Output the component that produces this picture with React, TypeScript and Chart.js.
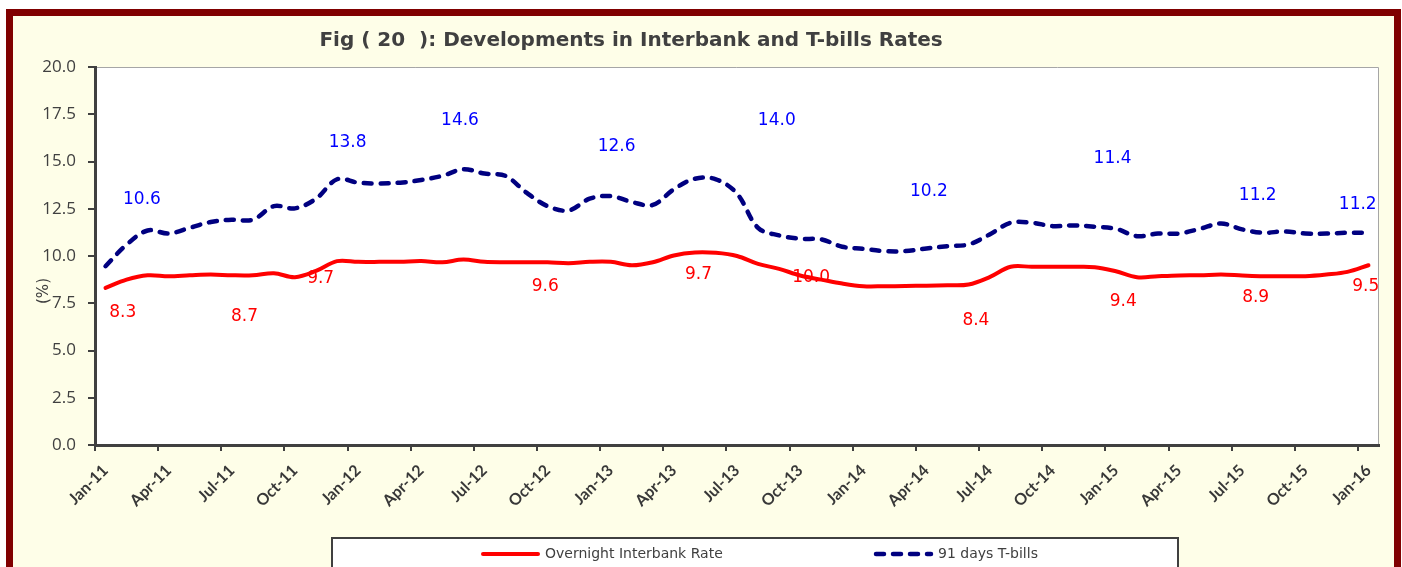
import React, { useEffect, useRef } from 'react';
import { Chart, registerables } from 'chart.js';

Chart.register(...registerables);

const TITLE = 'Fig ( 20  ): Developments in Interbank and T-bills Rates';
const Y_TITLE = '(%)';

const CATEGORIES = [
  'Jan-11', 'Feb-11', 'Mar-11', 'Apr-11', 'May-11', 'Jun-11', 'Jul-11', 'Aug-11', 'Sep-11', 'Oct-11', 'Nov-11', 'Dec-11',
  'Jan-12', 'Feb-12', 'Mar-12', 'Apr-12', 'May-12', 'Jun-12', 'Jul-12', 'Aug-12', 'Sep-12', 'Oct-12', 'Nov-12', 'Dec-12',
  'Jan-13', 'Feb-13', 'Mar-13', 'Apr-13', 'May-13', 'Jun-13', 'Jul-13', 'Aug-13', 'Sep-13', 'Oct-13', 'Nov-13', 'Dec-13',
  'Jan-14', 'Feb-14', 'Mar-14', 'Apr-14', 'May-14', 'Jun-14', 'Jul-14', 'Aug-14', 'Sep-14', 'Oct-14', 'Nov-14', 'Dec-14',
  'Jan-15', 'Feb-15', 'Mar-15', 'Apr-15', 'May-15', 'Jun-15', 'Jul-15', 'Aug-15', 'Sep-15', 'Oct-15', 'Nov-15', 'Dec-15',
  'Jan-16',
];

const INTERBANK = [
  8.31, 8.75, 8.98, 8.93, 8.98, 9.02, 8.98, 8.98, 9.09, 8.88, 9.21, 9.73,
  9.69, 9.69, 9.70, 9.73, 9.67, 9.81, 9.69, 9.67, 9.67, 9.67, 9.62, 9.69,
  9.69, 9.51, 9.67, 10.03, 10.19, 10.17, 10.0, 9.58, 9.32, 8.97, 8.75, 8.54,
  8.40, 8.40, 8.41, 8.43, 8.45, 8.49, 8.88, 9.43, 9.43, 9.43, 9.43, 9.41,
  9.19, 8.88, 8.93, 8.97, 8.98, 9.02, 8.97, 8.93, 8.93, 8.93, 9.02, 9.16,
  9.51,
];

const TBILLS = [
  9.46, 10.6, 11.35, 11.19, 11.49, 11.8, 11.92, 11.92, 12.64, 12.52, 13.03, 14.06,
  13.88, 13.84, 13.88, 14.02, 14.24, 14.59, 14.36, 14.24, 13.35, 12.64, 12.41, 13.03,
  13.17, 12.86, 12.70, 13.53, 14.09, 14.06, 13.3, 11.49, 11.09, 10.91, 10.88, 10.49,
  10.38, 10.26, 10.26, 10.40, 10.52, 10.61, 11.14, 11.76, 11.76, 11.58, 11.62, 11.55,
  11.44, 11.05, 11.19, 11.19, 11.44, 11.72, 11.41, 11.23, 11.30, 11.19, 11.19, 11.23,
  11.23,
];

// data labels as placed on the original chart (category index, value on y axis)
const TBILL_LABELS = ['10.6', '13.8', '14.6', '12.6', '14.0', '10.2', '11.4', '11.2', '11.2'];
const TBILL_LABEL_AT = [1.73, 11.5, 16.84, 24.28, 31.89, 39.12, 47.84, 54.74, 59.49];
const TBILL_LABEL_Y = [13.0, 16.0, 17.15, 15.77, 17.15, 13.39, 15.17, 13.2, 12.73];

const IB_LABELS = ['8.3', '8.7', '9.7', '9.6', '9.7', '10.0', '8.4', '9.4', '8.9', '9.5'];
const IB_LABEL_AT = [0.82, 6.6, 10.22, 20.89, 28.17, 33.52, 41.35, 48.35, 54.64, 59.87];
const IB_LABEL_Y = [6.98, 6.77, 8.81, 8.39, 9.02, 8.84, 6.58, 7.57, 7.81, 8.4];

const Y_MIN = 0;
const Y_MAX = 20;
const Y_STEP = 2.5;

const GREY = '#404040';
const RED = '#FF0000';
const NAVY = '#000080';
const BLUE_TEXT = '#0000FF';

const backgroundPlugin = {
  id: 'plotBackground',
  beforeDraw(chart: any) {
    const { ctx, chartArea: a } = chart;
    ctx.save();
    ctx.fillStyle = '#FFFFFF';
    ctx.fillRect(a.left, a.top, a.right - a.left, a.bottom - a.top);
    ctx.strokeStyle = '#A6A6A6';
    ctx.lineWidth = 1;
    ctx.beginPath();
    ctx.moveTo(a.left, a.top + 0.5);
    ctx.lineTo(a.right - 0.5, a.top + 0.5);
    ctx.lineTo(a.right - 0.5, a.bottom);
    ctx.stroke();
    ctx.restore();
  },
};

const labelsPlugin = {
  id: 'manualLabels',
  beforeDatasetsDraw(chart: any) {
    const { ctx } = chart;
    const x = chart.scales.x;
    const y = chart.scales.y;
    ctx.save();
    ctx.font = '17px "DejaVu Sans"';
    ctx.textAlign = 'center';
    ctx.textBaseline = 'middle';
    ctx.fillStyle = BLUE_TEXT;
    TBILL_LABELS.forEach((t, i) => {
      ctx.fillText(t, x.getPixelForValue(TBILL_LABEL_AT[i]), y.getPixelForValue(TBILL_LABEL_Y[i]));
    });
    ctx.fillStyle = RED;
    IB_LABELS.forEach((t, i) => {
      ctx.fillText(t, x.getPixelForValue(IB_LABEL_AT[i]), y.getPixelForValue(IB_LABEL_Y[i]));
    });
    ctx.restore();
  },
};

const textPlugin = {
  id: 'figureTexts',
  afterDraw(chart: any) {
    const { ctx, chartArea: a } = chart;
    ctx.save();
    // title
    ctx.fillStyle = GREY;
    ctx.font = 'bold 20px "DejaVu Sans"';
    ctx.textAlign = 'center';
    ctx.textBaseline = 'middle';
    ctx.fillText(TITLE, a.left + (a.right - a.left) * 0.4175, a.top - 26);
    // y axis title
    ctx.save();
    ctx.translate(44, a.top + 224);
    ctx.rotate(-Math.PI / 2);
    ctx.font = '15px "DejaVu Sans"';
    ctx.fillText(Y_TITLE, 0, 0);
    ctx.restore();
    // legend box
    const boxL = 332, boxR = 1178, boxT = 538;
    ctx.fillStyle = '#FFFFFF';
    ctx.fillRect(boxL, boxT, boxR - boxL, 60);
    ctx.strokeStyle = GREY;
    ctx.lineWidth = 2;
    ctx.strokeRect(boxL, boxT, boxR - boxL, 60);
    const starts = [481, 874];
    const cy = 554;
    chart.data.datasets.forEach((ds: any, i: number) => {
      ctx.save();
      ctx.strokeStyle = ds.borderColor;
      ctx.lineWidth = ds.borderWidth;
      ctx.lineCap = ds.borderCapStyle || 'butt';
      ctx.setLineDash(ds.borderDash || []);
      ctx.beginPath();
      ctx.moveTo(starts[i] + 2, cy);
      ctx.lineTo(starts[i] + 57, cy);
      ctx.stroke();
      ctx.restore();
      ctx.fillStyle = GREY;
      ctx.font = '14px "DejaVu Sans"';
      ctx.textAlign = 'left';
      ctx.textBaseline = 'middle';
      ctx.fillText(ds.label, starts[i] + 64, cy);
    });
    ctx.restore();
  },
};

export default function App() {
  const ref = useRef<HTMLCanvasElement | null>(null);

  useEffect(() => {
    if (!ref.current) return;
    const chart = new Chart(ref.current, {
      type: 'line',
      data: {
        labels: CATEGORIES,
        datasets: [
          {
            label: 'Overnight Interbank Rate',
            data: INTERBANK,
            borderColor: RED,
            backgroundColor: RED,
            borderWidth: 4,
            pointRadius: 0,
            tension: 0.35,
            borderCapStyle: 'round',
          },
          {
            label: '91 days T-bills',
            data: TBILLS,
            borderColor: NAVY,
            backgroundColor: NAVY,
            borderWidth: 4.5,
            borderDash: [8, 9],
            borderCapStyle: 'round',
            pointRadius: 0,
            tension: 0.35,
          },
        ],
      },
      options: {
        responsive: false,
        animation: false,
        layout: { padding: { top: 67, left: 20, right: 23, bottom: 0 } },
        plugins: {
          legend: { display: false },
          title: { display: false },
          tooltip: { enabled: false },
        },
        scales: {
          x: {
            offset: true,
            afterFit: (s: any) => { s.height = 122; },
            grid: {
              offset: true,
              drawOnChartArea: false,
              drawTicks: true,
              tickLength: 6,
              lineWidth: 2,
              color: (c: any) => (typeof c.index === 'number' && c.index % 3 === 0 ? GREY : 'rgba(0,0,0,0)'),
            },
            border: { display: true, color: GREY, width: 3 },
            ticks: {
              autoSkip: false,
              minRotation: 45,
              maxRotation: 45,
              padding: 10,
              color: '#383838',
              font: { family: 'Lato', weight: 'bold', size: 16 },
              callback: (_v: any, i: number) => (i % 3 === 0 ? CATEGORIES[i] : ''),
            },
          },
          y: {
            min: Y_MIN,
            max: Y_MAX,
            afterFit: (s: any) => { s.width = 75; },
            grid: { drawOnChartArea: false, drawTicks: true, tickLength: 7, color: GREY, lineWidth: 2 },
            border: { display: true, color: GREY, width: 3 },
            ticks: {
              stepSize: Y_STEP,
              padding: 12,
              color: GREY,
              font: { family: 'Open Sans', size: 17 },
              callback: (v: any) => Number(v).toFixed(1),
            },
          },
        },
      },
      plugins: [backgroundPlugin, labelsPlugin, textPlugin],
    });
    return () => chart.destroy();
  }, []);

  return (
    <>
      <div
        style={{
          position: 'absolute',
          left: 6,
          top: 9,
          width: 1395,
          height: 620,
          boxSizing: 'border-box',
          border: '7px solid #800000',
          background: '#FEFEE8',
        }}
      />
      <canvas
        ref={ref}
        width={1402}
        height={567}
        style={{ position: 'absolute', left: 0, top: 0, width: 1402, height: 567 }}
      />
    </>
  );
}
